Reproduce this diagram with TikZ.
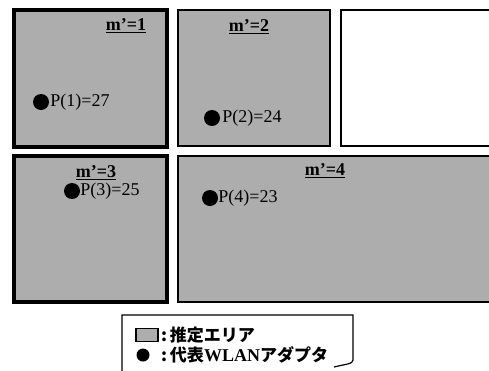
\documentclass[tikz,border=0pt]{standalone}
\usepackage{fontspec}
\setmainfont{Liberation Serif}
\newfontfamily\jpfont{Noto Sans CJK JP}
\usetikzlibrary{positioning}

\begin{document}
\begin{tikzpicture}[x=1pt,y=-1pt,
            area/.style={draw,fill=black!32,anchor=north west,inner sep=0pt},
            best area/.style={area,line width=4pt},
            other area/.style={area,line width=1.6pt},
            area label/.style={font=\fontsize{18}{18}\selectfont\bfseries,inner sep=1pt},
            value label/.style={font=\fontsize{18}{18}\selectfont,inner sep=0pt,anchor=west},
            adapter/.style={circle,fill=black,minimum size=16pt,inner sep=0pt},
            legend text/.style={font=\fontsize{17}{17}\selectfont\jpfont\bfseries,inner sep=0pt,anchor=west}]

        \useasboundingbox (0,0) rectangle (489,370);
        \clip (0,0) rectangle (489,370);

        % Estimated areas
        \node[best area,minimum width=153pt,minimum height=137pt] (a1) at (12,8) {};
        \node[other area,minimum width=152pt,minimum height=136pt] (a2) at (177,9) {};
        \node[other area,fill=white,minimum width=160pt,minimum height=136pt] (a0) at (340,9) {};
        \node[best area,minimum width=153pt,minimum height=146pt] (a3) at (12,154) {};
        \node[other area,minimum width=320pt,minimum height=146pt] (a4) at (177,155) {};

        % Area numbers
        \node[area label] (m1) at (126,26) {\underline{m'=1}};
        \node[area label] (m2) at (249,27) {\underline{m'=2}};
        \node[area label] (m3) at (96,173) {\underline{m'=3}};
        \node[area label] (m4) at (325,171) {\underline{m'=4}};

        % Representative adapters
        \node[adapter] (d1) at (41,102) {};
        \node[value label,right=1pt of d1] (p1) {P(1)=27};
        \node[adapter] (d2) at (212,118) {};
        \node[value label,right=2pt of d2] (p2) {P(2)=24};
        \node[adapter] (d3) at (72,191) {};
        \node[value label,right=0pt of d3] (p3) {P(3)=25};
        \node[adapter] (d4) at (210,198) {};
        \node[value label,right=0pt of d4] (p4) {P(4)=23};

        % Legend
        \draw[line width=1.2pt] (122,375) -- (122,315) -- (353,315) -- (353,360)
            .. controls (353,364) and (346,364) .. (334,367);
        \node[draw,line width=1.5pt,fill=black!32,minimum width=22pt,minimum height=13pt,inner sep=0pt] (k1) at (147,335) {};
        \node[adapter,minimum size=13pt] (k2) at (143,355) {};
        \node[legend text] (t1) at (161,335) {:\,推定エリア};
        \node[legend text] (t2) at (161,355) {:\,代表{\fontspec{Liberation Serif}\fontsize{18}{18}\selectfont\bfseries WLAN}アダプタ};

        \end{tikzpicture}
\end{document}
